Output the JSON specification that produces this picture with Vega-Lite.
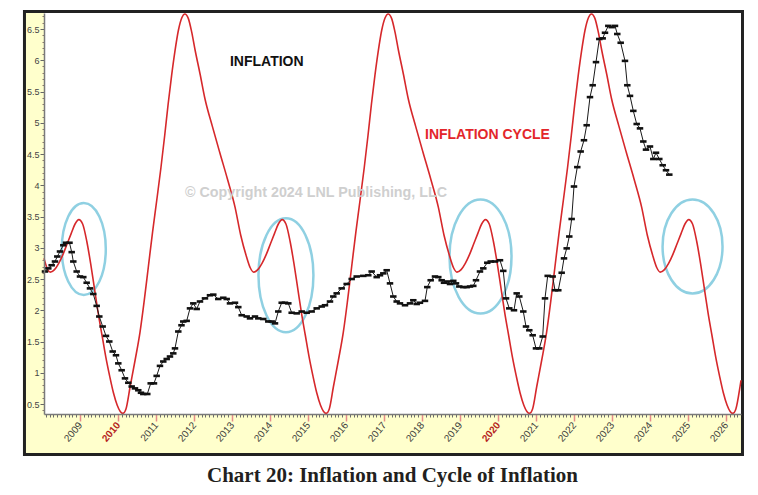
{
  "$schema": "https://vega.github.io/schema/vega-lite/v6.json",
  "width": 697,
  "height": 401,
  "autosize": {"type": "none"},
  "padding": {"left": 44, "top": 13, "right": 17, "bottom": 81},
  "background": "white",
  "title": {"text": "Chart 20: Inflation and Cycle of Inflation", "orient": "bottom", "font": "Liberation Serif", "fontSize": 21, "fontWeight": "bold", "color": "#231f20", "offset": 9, "anchor": "middle"},
  "config": {"view": {"stroke": null}, "axis": {"grid": false, "labelFont": "Liberation Sans", "title": null}},
  "resolve": {"axis": {"x": "independent", "y": "independent"}},
  "datasets": {
    "cycle": [
      {"t":2008.053,"v":2.83},{"t":2008.13,"v":2.68},{"t":2008.22,"v":2.61},{"t":2008.33,"v":2.65},{"t":2008.44,"v":2.75},{"t":2008.55,"v":2.89},{"t":2008.66,"v":3.06},{"t":2008.77,"v":3.23},{"t":2008.87,"v":3.38},{"t":2008.97,"v":3.45},{"t":2009.07,"v":3.38},{"t":2009.18,"v":3.10},{"t":2009.28,"v":2.75},{"t":2009.38,"v":2.35},{"t":2009.48,"v":1.95},{"t":2009.58,"v":1.60},{"t":2009.68,"v":1.25},{"t":2009.78,"v":0.95},{"t":2009.88,"v":0.68},{"t":2009.98,"v":0.48},{"t":2010.06,"v":0.38},
      {"t":2010.13,"v":0.35},{"t":2010.21,"v":0.42},{"t":2010.32,"v":0.78},{"t":2010.45,"v":1.20},{"t":2010.58,"v":1.65},{"t":2010.69,"v":2.15},{"t":2010.80,"v":2.70},{"t":2010.91,"v":3.25},{"t":2011.02,"v":3.76},{"t":2011.13,"v":4.28},{"t":2011.23,"v":4.80},{"t":2011.32,"v":5.30},{"t":2011.41,"v":5.75},{"t":2011.50,"v":6.15},{"t":2011.59,"v":6.48},{"t":2011.68,"v":6.68},{"t":2011.76,"v":6.74},{"t":2011.85,"v":6.67},{"t":2011.94,"v":6.45},{"t":2012.03,"v":6.16},{"t":2012.16,"v":5.78},{"t":2012.29,"v":5.38},{"t":2012.48,"v":4.95},{"t":2012.68,"v":4.52},{"t":2012.88,"v":4.10},{"t":2013.08,"v":3.65},{"t":2013.23,"v":3.20},{"t":2013.38,"v":2.86},{"t":2013.48,"v":2.68},{"t":2013.57,"v":2.61},{"t":2013.68,"v":2.65},{"t":2013.79,"v":2.75},{"t":2013.90,"v":2.89},{"t":2014.01,"v":3.06},{"t":2014.12,"v":3.23},{"t":2014.22,"v":3.38},{"t":2014.32,"v":3.45},{"t":2014.42,"v":3.38},{"t":2014.53,"v":3.10},{"t":2014.63,"v":2.75},{"t":2014.73,"v":2.35},{"t":2014.83,"v":1.95},{"t":2014.93,"v":1.60},{"t":2015.03,"v":1.25},{"t":2015.13,"v":0.95},{"t":2015.23,"v":0.68},{"t":2015.33,"v":0.48},{"t":2015.41,"v":0.38},
      {"t":2015.48,"v":0.35},{"t":2015.56,"v":0.42},{"t":2015.67,"v":0.78},{"t":2015.80,"v":1.20},{"t":2015.93,"v":1.65},{"t":2016.04,"v":2.15},{"t":2016.15,"v":2.70},{"t":2016.26,"v":3.25},{"t":2016.37,"v":3.76},{"t":2016.48,"v":4.28},{"t":2016.58,"v":4.80},{"t":2016.67,"v":5.30},{"t":2016.76,"v":5.75},{"t":2016.85,"v":6.15},{"t":2016.94,"v":6.48},{"t":2017.03,"v":6.68},{"t":2017.11,"v":6.74},{"t":2017.20,"v":6.67},{"t":2017.29,"v":6.45},{"t":2017.38,"v":6.16},{"t":2017.51,"v":5.78},{"t":2017.64,"v":5.38},{"t":2017.83,"v":4.95},{"t":2018.03,"v":4.52},{"t":2018.23,"v":4.10},{"t":2018.43,"v":3.65},{"t":2018.58,"v":3.20},{"t":2018.73,"v":2.86},{"t":2018.83,"v":2.68},{"t":2018.92,"v":2.61},{"t":2019.03,"v":2.65},{"t":2019.14,"v":2.75},{"t":2019.25,"v":2.89},{"t":2019.36,"v":3.06},{"t":2019.47,"v":3.23},{"t":2019.57,"v":3.38},{"t":2019.67,"v":3.45},{"t":2019.77,"v":3.38},{"t":2019.88,"v":3.10},{"t":2019.98,"v":2.75},{"t":2020.08,"v":2.35},{"t":2020.18,"v":1.95},{"t":2020.28,"v":1.60},{"t":2020.38,"v":1.25},{"t":2020.48,"v":0.95},{"t":2020.58,"v":0.68},{"t":2020.68,"v":0.48},{"t":2020.76,"v":0.38},
      {"t":2020.83,"v":0.35},{"t":2020.91,"v":0.42},{"t":2021.02,"v":0.78},{"t":2021.15,"v":1.20},{"t":2021.28,"v":1.65},{"t":2021.39,"v":2.15},{"t":2021.50,"v":2.70},{"t":2021.61,"v":3.25},{"t":2021.72,"v":3.76},{"t":2021.83,"v":4.28},{"t":2021.93,"v":4.80},{"t":2022.02,"v":5.30},{"t":2022.11,"v":5.75},{"t":2022.20,"v":6.15},{"t":2022.29,"v":6.48},{"t":2022.38,"v":6.68},{"t":2022.46,"v":6.74},{"t":2022.55,"v":6.67},{"t":2022.64,"v":6.45},{"t":2022.73,"v":6.16},{"t":2022.86,"v":5.78},{"t":2022.99,"v":5.38},{"t":2023.18,"v":4.95},{"t":2023.38,"v":4.52},{"t":2023.58,"v":4.10},{"t":2023.78,"v":3.65},{"t":2023.93,"v":3.20},{"t":2024.08,"v":2.86},{"t":2024.18,"v":2.68},{"t":2024.27,"v":2.61},{"t":2024.38,"v":2.65},{"t":2024.49,"v":2.75},{"t":2024.60,"v":2.89},{"t":2024.71,"v":3.06},{"t":2024.82,"v":3.23},{"t":2024.92,"v":3.38},{"t":2025.02,"v":3.45},{"t":2025.12,"v":3.38},{"t":2025.23,"v":3.10},{"t":2025.33,"v":2.75},{"t":2025.43,"v":2.35},{"t":2025.53,"v":1.95},{"t":2025.63,"v":1.60},{"t":2025.73,"v":1.25},{"t":2025.83,"v":0.95},{"t":2025.93,"v":0.68},{"t":2026.03,"v":0.48},{"t":2026.11,"v":0.38},
      {"t":2026.18,"v":0.35},{"t":2026.26,"v":0.42},{"t":2026.37,"v":0.78},{"t":2026.395,"v":0.88}
    ],
    "infl": [
      {"t":2008.079,"v":2.62},{"t":2008.166,"v":2.67},{"t":2008.255,"v":2.72},{"t":2008.342,"v":2.78},{"t":2008.403,"v":2.86},{"t":2008.474,"v":2.94},{"t":2008.561,"v":3.04},{"t":2008.632,"v":3.08},{"t":2008.724,"v":3.08},{"t":2008.782,"v":2.93},{"t":2008.824,"v":2.78},{"t":2008.913,"v":2.62},
      {"t":2009.0,"v":2.54},{"t":2009.087,"v":2.53},{"t":2009.176,"v":2.44},{"t":2009.263,"v":2.35},{"t":2009.35,"v":2.26},{"t":2009.439,"v":2.07},{"t":2009.508,"v":1.90},{"t":2009.597,"v":1.74},{"t":2009.684,"v":1.59},{"t":2009.771,"v":1.50},{"t":2009.861,"v":1.34},{"t":2009.947,"v":1.28},
      {"t":2010.008,"v":1.15},{"t":2010.097,"v":1.04},{"t":2010.184,"v":0.91},{"t":2010.271,"v":0.84},{"t":2010.361,"v":0.78},{"t":2010.447,"v":0.75},{"t":2010.534,"v":0.72},{"t":2010.605,"v":0.68},{"t":2010.666,"v":0.66},{"t":2010.771,"v":0.66},{"t":2010.861,"v":0.83},{"t":2010.947,"v":0.83},
      {"t":2011.018,"v":0.95},{"t":2011.105,"v":1.11},{"t":2011.192,"v":1.18},{"t":2011.282,"v":1.22},{"t":2011.368,"v":1.26},{"t":2011.455,"v":1.31},{"t":2011.5,"v":1.39},{"t":2011.587,"v":1.66},{"t":2011.671,"v":1.76},{"t":2011.718,"v":1.82},{"t":2011.808,"v":1.83},{"t":2011.895,"v":2.03},{"t":2011.982,"v":2.11},
      {"t":2012.071,"v":2.02},{"t":2012.158,"v":2.14},{"t":2012.289,"v":2.19},{"t":2012.421,"v":2.24},{"t":2012.508,"v":2.25},{"t":2012.639,"v":2.18},{"t":2012.771,"v":2.20},{"t":2012.861,"v":2.18},{"t":2012.947,"v":2.11},
      {"t":2013.079,"v":2.12},{"t":2013.166,"v":2.05},{"t":2013.255,"v":1.92},{"t":2013.387,"v":1.90},{"t":2013.474,"v":1.87},{"t":2013.605,"v":1.90},{"t":2013.692,"v":1.87},{"t":2013.824,"v":1.86},{"t":2013.955,"v":1.82},
      {"t":2014.045,"v":1.82},{"t":2014.132,"v":1.79},{"t":2014.218,"v":1.98},{"t":2014.308,"v":2.12},{"t":2014.395,"v":2.12},{"t":2014.482,"v":2.11},{"t":2014.571,"v":1.96},{"t":2014.703,"v":1.95},{"t":2014.834,"v":1.98},{"t":2014.966,"v":1.96},
      {"t":2015.097,"v":1.98},{"t":2015.229,"v":2.03},{"t":2015.361,"v":2.06},{"t":2015.447,"v":2.08},{"t":2015.579,"v":2.14},{"t":2015.666,"v":2.22},{"t":2015.755,"v":2.27},{"t":2015.887,"v":2.35},
      {"t":2016.018,"v":2.42},{"t":2016.150,"v":2.50},{"t":2016.282,"v":2.54},{"t":2016.455,"v":2.55},{"t":2016.587,"v":2.56},{"t":2016.676,"v":2.62},{"t":2016.808,"v":2.53},{"t":2016.895,"v":2.56},{"t":2016.982,"v":2.59},
      {"t":2017.071,"v":2.64},{"t":2017.158,"v":2.43},{"t":2017.245,"v":2.22},{"t":2017.334,"v":2.14},{"t":2017.421,"v":2.11},{"t":2017.553,"v":2.08},{"t":2017.684,"v":2.11},{"t":2017.771,"v":2.16},{"t":2017.861,"v":2.10},{"t":2017.947,"v":2.12},
      {"t":2018.079,"v":2.15},{"t":2018.139,"v":2.37},{"t":2018.229,"v":2.48},{"t":2018.342,"v":2.54},{"t":2018.429,"v":2.53},{"t":2018.518,"v":2.48},{"t":2018.579,"v":2.44},{"t":2018.666,"v":2.46},{"t":2018.737,"v":2.42},{"t":2018.824,"v":2.47},{"t":2018.895,"v":2.43},{"t":2018.982,"v":2.38},
      {"t":2019.087,"v":2.37},{"t":2019.176,"v":2.37},{"t":2019.263,"v":2.38},{"t":2019.35,"v":2.39},{"t":2019.421,"v":2.48},{"t":2019.526,"v":2.62},{"t":2019.613,"v":2.67},{"t":2019.718,"v":2.76},{"t":2019.808,"v":2.78},{"t":2019.921,"v":2.78},
      {"t":2020.053,"v":2.80},{"t":2020.139,"v":2.63},{"t":2020.211,"v":2.19},{"t":2020.297,"v":2.03},{"t":2020.421,"v":2.00},{"t":2020.492,"v":2.27},{"t":2020.561,"v":2.22},{"t":2020.666,"v":1.98},{"t":2020.737,"v":1.74},{"t":2020.824,"v":1.68},{"t":2020.913,"v":1.60},
      {"t":2021.0,"v":1.39},{"t":2021.087,"v":1.39},{"t":2021.176,"v":1.58},{"t":2021.237,"v":2.19},{"t":2021.308,"v":2.55},{"t":2021.439,"v":2.54},{"t":2021.5,"v":2.32},{"t":2021.587,"v":2.32},{"t":2021.676,"v":2.60},{"t":2021.737,"v":2.83},{"t":2021.808,"v":2.99},{"t":2021.876,"v":3.18},{"t":2021.939,"v":3.46},
      {"t":2022.0,"v":3.98},{"t":2022.087,"v":4.29},{"t":2022.176,"v":4.54},{"t":2022.263,"v":4.72},{"t":2022.334,"v":4.96},{"t":2022.421,"v":5.41},{"t":2022.492,"v":5.60},{"t":2022.579,"v":5.97},{"t":2022.666,"v":6.34},{"t":2022.755,"v":6.35},{"t":2022.816,"v":6.44},{"t":2022.903,"v":6.55},{"t":2022.992,"v":6.53},
      {"t":2023.079,"v":6.55},{"t":2023.139,"v":6.42},{"t":2023.229,"v":6.28},{"t":2023.342,"v":5.99},{"t":2023.403,"v":5.60},{"t":2023.474,"v":5.43},{"t":2023.561,"v":5.19},{"t":2023.650,"v":4.98},{"t":2023.737,"v":4.91},{"t":2023.824,"v":4.70},{"t":2023.895,"v":4.57},
      {"t":2024.0,"v":4.62},{"t":2024.087,"v":4.42},{"t":2024.158,"v":4.52},{"t":2024.245,"v":4.42},{"t":2024.334,"v":4.32},{"t":2024.421,"v":4.24},{"t":2024.508,"v":4.17}
    ],
    "rings": [
      {"ring":"a","t":2009.1,"v":2.98},
      {"ring":"b","t":2014.42,"v":2.56},
      {"ring":"c","t":2019.54,"v":2.86},
      {"ring":"d","t":2025.12,"v":3.02}
    ]
  },
  "layer": [
    {
      "data": {"values": [{}]},
      "mark": {"type": "rect", "fill": "#ffffcc", "stroke": "#222222", "strokeWidth": 3},
      "encoding": {
        "x": {"datum": 2007.539, "type": "quantitative", "scale": {"domain": [2008.053, 2026.395], "nice": false, "zero": false}, "axis": null},
        "x2": {"datum": 2026.434},
        "y": {"datum": -0.308, "type": "quantitative", "scale": {"domain": [0.34, 6.756], "nice": false, "zero": false}, "axis": null},
        "y2": {"datum": 6.78}
      }
    },
    {
      "data": {"values": [{}]},
      "mark": {"type": "rect", "fill": "white"},
      "encoding": {
        "x": {"datum": 2008.053, "type": "quantitative", "scale": {"domain": [2008.053, 2026.395], "nice": false, "zero": false}, "axis": null},
        "x2": {"datum": 2026.395},
        "y": {"datum": 0.34, "type": "quantitative", "scale": {"domain": [0.34, 6.756], "nice": false, "zero": false}, "axis": null},
        "y2": {"datum": 6.756}
      }
    },
    {
      "data": {"name": "rings"},
      "mark": {"type": "point", "filled": false, "strokeWidth": 2.5, "size": 12996, "color": "#8fd0e2", "opacity": 1},
      "encoding": {
        "x": {"field": "t", "type": "quantitative", "scale": {"domain": [2008.053, 2026.395], "nice": false, "zero": false}, "axis": null},
        "y": {"field": "v", "type": "quantitative", "scale": {"domain": [0.34, 6.756], "nice": false, "zero": false}, "axis": null},
        "shape": {"field": "ring", "type": "nominal", "legend": null, "scale": {"domain": ["a", "b", "c", "d"], "range": [
          "M0.386,0C0.386,0.446,0.213,0.807,0,0.807C-0.213,0.807,-0.386,0.446,-0.386,0C-0.386,-0.446,-0.213,-0.807,0,-0.807C0.213,-0.807,0.386,-0.446,0.386,0Z",
          "M0.482,0C0.482,0.552,0.266,1,0,1C-0.266,1,-0.482,0.552,-0.482,0C-0.482,-0.552,-0.266,-1,0,-1C0.266,-1,0.482,-0.552,0.482,0Z",
          "M0.544,0C0.544,0.552,0.3,1,0,1C-0.3,1,-0.544,0.552,-0.544,0C-0.544,-0.552,-0.3,-1,0,-1C0.3,-1,0.544,-0.552,0.544,0Z",
          "M0.526,0C0.526,0.456,0.291,0.825,0,0.825C-0.291,0.825,-0.526,0.456,-0.526,0C-0.526,-0.456,-0.291,-0.825,0,-0.825C0.291,-0.825,0.526,-0.456,0.526,0Z"
        ]}}
      }
    },
    {
      "data": {"name": "cycle"},
      "mark": {"type": "line", "color": "#d6282b", "strokeWidth": 1.6, "interpolate": "monotone"},
      "encoding": {
        "x": {"field": "t", "type": "quantitative", "scale": {"domain": [2008.053, 2026.395], "nice": false, "zero": false},
          "axis": {"orient": "bottom", "zindex": 2, "values": [2009,2010,2011,2012,2013,2014,2015,2016,2017,2018,2019,2020,2021,2022,2023,2024,2025,2026], "format": "d", "labelAngle": -50, "labelFontSize": 10, "labelOverlap": false, "labelFlush": false, "labelPadding": 2,
            "labelColor": {"condition": {"test": "datum.value === 2010 || datum.value === 2020", "value": "#b5231e"}, "value": "#3a3a3a"},
            "labelFontWeight": {"condition": {"test": "datum.value === 2010 || datum.value === 2020", "value": "bold"}, "value": "normal"},
            "tickColor": "#e58a8a", "tickSize": 7, "tickWidth": 1.5, "domainColor": "#7a7a7a", "domainWidth": 1.5}},
        "y": {"field": "v", "type": "quantitative", "scale": {"domain": [0.34, 6.756], "nice": false, "zero": false},
          "axis": {"orient": "left", "zindex": 2, "values": [0.5,1,1.5,2,2.5,3,3.5,4,4.5,5,5.5,6,6.5], "format": ".1~f", "labelFontSize": 9, "labelColor": "#444444", "labelFlush": false, "labelPadding": 1, "tickColor": "#666666", "tickSize": 4, "tickWidth": 1, "domainColor": "#7a7a7a", "domainWidth": 1.5}}
      }
    },
    {
      "data": {"name": "infl"},
      "mark": {"type": "line", "color": "#1a1a1a", "strokeWidth": 1},
      "encoding": {
        "x": {"field": "t", "type": "quantitative", "scale": {"domain": [2008.053, 2026.395], "nice": false, "zero": false},
          "axis": {"orient": "bottom", "zindex": 1, "tickCount": 200, "labels": false, "domain": false, "tickSize": 3, "tickColor": "#6b6b6b", "tickWidth": 1}},
        "y": {"field": "v", "type": "quantitative", "scale": {"domain": [0.34, 6.756], "nice": false, "zero": false},
          "axis": {"orient": "left", "zindex": 1, "tickCount": 65, "labels": false, "domain": false, "tickSize": 2, "tickColor": "#8c7b6b", "tickWidth": 1}}
      }
    },
    {
      "data": {"name": "infl"},
      "mark": {"type": "point", "shape": "stroke", "filled": false, "size": 42, "strokeWidth": 2.6, "color": "#111111", "opacity": 1},
      "encoding": {
        "x": {"field": "t", "type": "quantitative", "scale": {"domain": [2008.053, 2026.395], "nice": false, "zero": false}, "axis": null},
        "y": {"field": "v", "type": "quantitative", "scale": {"domain": [0.34, 6.756], "nice": false, "zero": false}, "axis": null}
      }
    },
    {
      "data": {"values": [{"label": "INFLATION", "t": 2012.947, "v": 5.97}]},
      "mark": {"type": "text", "align": "left", "baseline": "middle", "font": "Liberation Sans", "fontSize": 14, "fontWeight": "bold", "color": "#111111"},
      "encoding": {
        "x": {"field": "t", "type": "quantitative", "scale": {"domain": [2008.053, 2026.395], "nice": false, "zero": false}, "axis": null},
        "y": {"field": "v", "type": "quantitative", "scale": {"domain": [0.34, 6.756], "nice": false, "zero": false}, "axis": null},
        "text": {"field": "label"}
      }
    },
    {
      "data": {"values": [{"label": "INFLATION CYCLE", "t": 2018.079, "v": 4.80}]},
      "mark": {"type": "text", "align": "left", "baseline": "middle", "font": "Liberation Sans", "fontSize": 14, "fontWeight": "bold", "color": "#e3262b"},
      "encoding": {
        "x": {"field": "t", "type": "quantitative", "scale": {"domain": [2008.053, 2026.395], "nice": false, "zero": false}, "axis": null},
        "y": {"field": "v", "type": "quantitative", "scale": {"domain": [0.34, 6.756], "nice": false, "zero": false}, "axis": null},
        "text": {"field": "label"}
      }
    },
    {
      "data": {"values": [{"label": "© Copyright 2024 LNL Publishing, LLC", "t": 2011.763, "v": 3.876}]},
      "mark": {"type": "text", "align": "left", "baseline": "middle", "font": "Liberation Sans", "fontSize": 14.3, "fontWeight": "bold", "color": "#cfcfcf"},
      "encoding": {
        "x": {"field": "t", "type": "quantitative", "scale": {"domain": [2008.053, 2026.395], "nice": false, "zero": false}, "axis": null},
        "y": {"field": "v", "type": "quantitative", "scale": {"domain": [0.34, 6.756], "nice": false, "zero": false}, "axis": null},
        "text": {"field": "label"}
      }
    }
  ]
}
